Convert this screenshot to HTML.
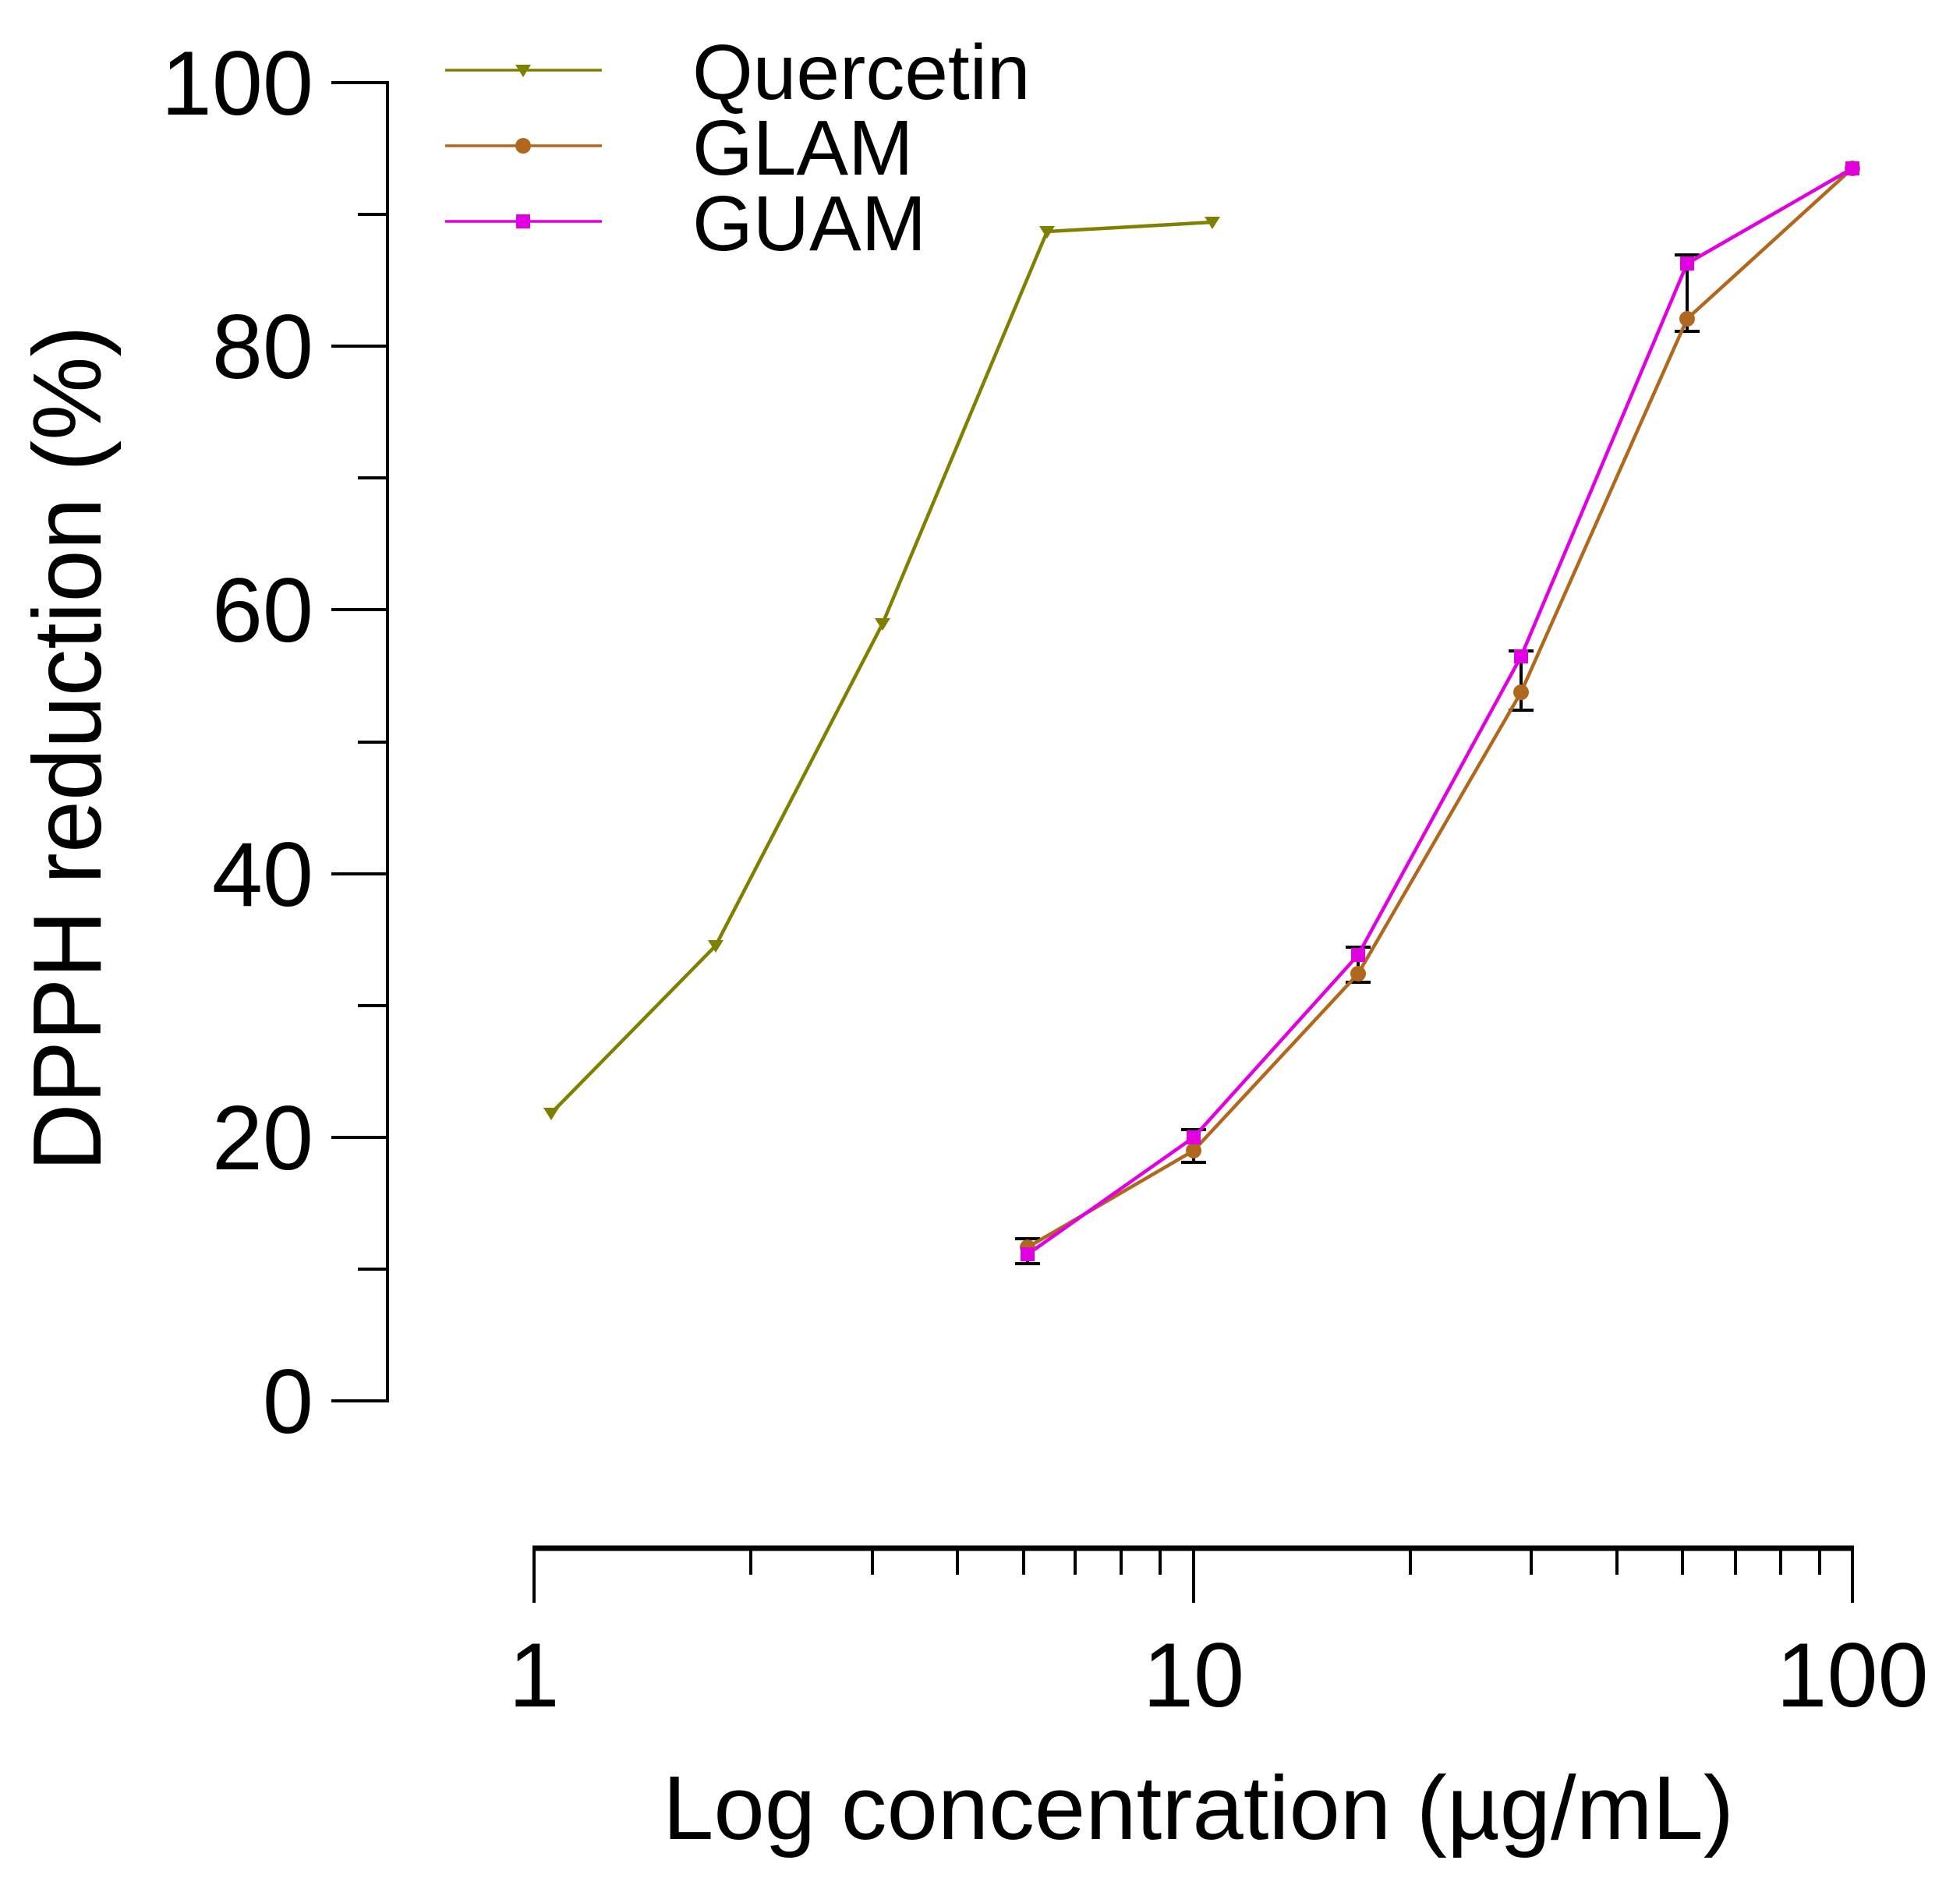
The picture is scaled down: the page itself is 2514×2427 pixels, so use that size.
<!DOCTYPE html>
<html><head><meta charset="utf-8"><style>html,body{margin:0;padding:0;background:#fff}svg{display:block}</style></head><body>
<svg width="2514" height="2427" viewBox="0 0 2514 2427" xmlns="http://www.w3.org/2000/svg" font-family="Liberation Sans, Arial, sans-serif">
<g stroke="#000" stroke-width="4" fill="none">
<line x1="497" y1="104" x2="497" y2="1799"/>
<line x1="425" y1="106" x2="497" y2="106"/>
<line x1="459" y1="275" x2="497" y2="275"/>
<line x1="425" y1="444" x2="497" y2="444"/>
<line x1="459" y1="613" x2="497" y2="613"/>
<line x1="425" y1="782" x2="497" y2="782"/>
<line x1="459" y1="952" x2="497" y2="952"/>
<line x1="425" y1="1121" x2="497" y2="1121"/>
<line x1="459" y1="1290" x2="497" y2="1290"/>
<line x1="425" y1="1459" x2="497" y2="1459"/>
<line x1="459" y1="1628" x2="497" y2="1628"/>
<line x1="425" y1="1797" x2="497" y2="1797"/>
<line x1="683" y1="1986" x2="2378" y2="1986" stroke-width="7"/>
<line x1="685" y1="1986" x2="685" y2="2056"/>
<line x1="1531" y1="1986" x2="1531" y2="2056"/>
<line x1="2376" y1="1986" x2="2376" y2="2056"/>
<path d="M963 1986v34M1119 1986v34M1228 1986v34M1313 1986v34M1379 1986v34M1438 1986v34M1488 1986v34M1809 1986v34M1964 1986v34M2074 1986v34M2158 1986v34M2226 1986v34M2284 1986v34M2334 1986v34"/>
</g>
<g font-size="117" text-anchor="end" fill="#000">
<text x="402" y="147">100</text><text x="402" y="485">80</text><text x="402" y="823">60</text>
<text x="402" y="1162">40</text><text x="402" y="1500">20</text><text x="402" y="1838">0</text>
</g>
<g font-size="117" text-anchor="middle" fill="#000">
<text x="685" y="2189">1</text><text x="1531" y="2189">10</text><text x="2376" y="2189">100</text>
</g>
<text x="1537" y="2359" font-size="116" text-anchor="middle" textLength="1374" lengthAdjust="spacingAndGlyphs">Log concentration (µg/mL)</text>
<text transform="translate(129,960) rotate(-90)" font-size="124" text-anchor="middle" textLength="1085" lengthAdjust="spacingAndGlyphs">DPPH  reduction (%)</text>
<!-- legend -->
<g stroke-width="3.5">
<line x1="571" y1="90" x2="772" y2="90" stroke="#808000"/>
<line x1="571" y1="187" x2="772" y2="187" stroke="#b0681e"/>
<line x1="571" y1="284" x2="772" y2="284" stroke="#e000e0"/>
</g>
<path d="M661 83h20l-10 16z" fill="#808000"/>
<circle cx="671" cy="187" r="10" fill="#b0681e"/>
<rect x="662" y="275" width="18" height="18" fill="#e000e0"/>
<g font-size="100" fill="#000">
<text x="888" y="127">Quercetin</text><text x="888" y="224">GLAM</text><text x="888" y="321">GUAM</text>
</g>
<!-- error bars -->
<g stroke="#000" stroke-width="4">
<path d="M1318 1589v32M1302 1589h32M1302 1621h32"/>
<path d="M1531 1449v42M1515 1449h32M1515 1491h32"/>
<path d="M1742 1215v45M1726 1215h32M1726 1260h32"/>
<path d="M1951 835v76M1935 835h32M1935 911h32"/>
<path d="M2164 327v98M2148 327h32M2148 425h32"/>
</g>
<!-- series -->
<polyline fill="none" stroke="#808000" stroke-width="4.5" points="707,1428 918,1213 1132,800 1343,297 1555,285"/>
<g fill="#808000">
<path d="M697 1421h20l-10 16z"/><path d="M908 1206h20l-10 16z"/><path d="M1122 793h20l-10 16z"/><path d="M1333 290h20l-10 16z"/><path d="M1545 278h20l-10 16z"/>
</g>
<polyline fill="none" stroke="#b0681e" stroke-width="4.5" points="1318,1600 1531,1476 1742,1249 1951,888 2164,409 2376,216"/>
<polyline fill="none" stroke="#e000e0" stroke-width="4.5" points="1318,1609 1531,1459 1742,1225 1951,842 2164,338 2376,216"/>
<g fill="#b0681e">
<circle cx="1318" cy="1600" r="10"/><circle cx="1531" cy="1476" r="10"/><circle cx="1742" cy="1249" r="10"/><circle cx="1951" cy="888" r="10"/><circle cx="2164" cy="409" r="10"/><circle cx="2376" cy="216" r="10"/>
</g>
<g fill="#e000e0">
<rect x="1309" y="1600" width="18" height="18"/><rect x="1522" y="1450" width="18" height="18"/><rect x="1733" y="1216" width="18" height="18"/><rect x="1942" y="833" width="18" height="18"/><rect x="2155" y="329" width="18" height="18"/><rect x="2367" y="207" width="18" height="18"/>
</g>
</svg>
</body></html>
